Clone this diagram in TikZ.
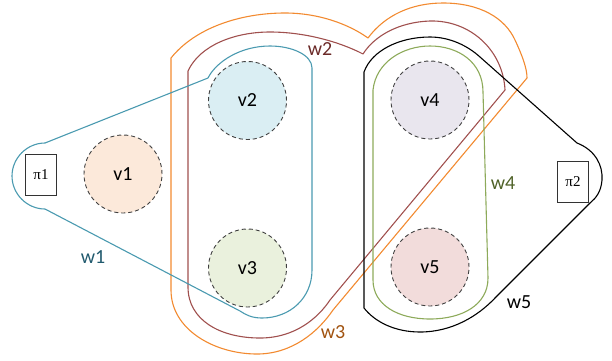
\documentclass[tikz,border=0pt]{standalone}
\usepackage{fontspec}
\setmainfont{Carlito}
\newfontfamily\boxfont{Liberation Serif}
\begin{document}
\begin{tikzpicture}[x=1pt,y=-1pt,
  vertex/.style={circle,minimum size=78pt,inner sep=0pt,draw=black!75,
    dash pattern=on 4pt off 3pt,line width=0.9pt,font=\fontsize{20}{22}\selectfont},
  portbox/.style={rectangle,draw=black!80,line width=0.8pt,minimum width=31pt,
    minimum height=41pt,inner sep=0pt,font=\boxfont\fontsize{15}{16}\selectfont},
  hedge/.style={line width=1.1pt,line join=round},
  elabel/.style={font=\fontsize{20}{22}\selectfont,inner sep=0pt}]
\definecolor{tealline}{HTML}{4A9AB0}
\definecolor{teallab}{HTML}{215A6E}
\definecolor{redline}{HTML}{A0504E}
\definecolor{redlab}{HTML}{6B2A28}
\definecolor{orangeline}{HTML}{F28A30}
\definecolor{orangelab}{HTML}{A0520F}
\definecolor{greenline}{HTML}{8DAA5A}
\definecolor{greenlab}{HTML}{4F6228}
\definecolor{fillA}{HTML}{FCE9DA}
\definecolor{fillB}{HTML}{DAEEF3}
\definecolor{fillC}{HTML}{EAF1DD}
\definecolor{fillD}{HTML}{E9E6EE}
\definecolor{fillE}{HTML}{F2DCDB}
\useasboundingbox (0,0) rectangle (612,360);

% hyperedge w3 (outermost, orange)
\draw[hedge,orangeline] (171,290) -- (171,58)
  .. controls (195,28) and (240,13) .. (285,13)
  .. controls (320,13) and (350,25) .. (368,38)
  .. controls (385,15) and (412,3) .. (443,3)
  .. controls (480,3) and (505,18) .. (515,40)
  .. controls (522,55) and (527,68) .. (527,78)
  -- (333,310)
  .. controls (318,332) and (292,354) .. (257,354)
  .. controls (215,354) and (171,330) .. (171,290) -- cycle;

% hyperedge w2 (red)
\draw[hedge,redline] (188,287) -- (188,71)
  .. controls (200,45) and (235,32) .. (270,32)
  .. controls (305,32) and (340,42) .. (363,54)
  .. controls (375,35) and (400,22) .. (430,21)
  .. controls (470,20) and (503,50) .. (505,90)
  -- (330,300)
  .. controls (318,318) and (295,338) .. (260,338)
  .. controls (220,338) and (188,320) .. (188,287) -- cycle;

% hyperedge w1 (teal) including port pi1
\draw[hedge,tealline] (45,143) -- (208,78)
  .. controls (216,62) and (240,46) .. (270,46)
  .. controls (292,46) and (312,55) .. (312,68)
  -- (312,270)
  .. controls (312,298) and (290,318) .. (262,318)
  .. controls (252,318) and (246,315) .. (240,311)
  -- (45,209)
  .. controls (27,209) and (12,194) .. (12,176)
  .. controls (12,158) and (27,143) .. (45,143) -- cycle;

% hyperedge w5 (black) including port pi2
\draw[hedge,black] (364,308) -- (364,72)
  .. controls (372,50) and (400,37) .. (430,37)
  .. controls (450,37) and (468,46) .. (480,57)
  -- (577,143)
  .. controls (595,150) and (603,165) .. (602,180)
  .. controls (601,192) and (596,198) .. (590,203)
  -- (495,298)
  .. controls (478,316) and (452,332) .. (420,332)
  .. controls (395,332) and (375,322) .. (364,308) -- cycle;

% hyperedge w4 (green)
\draw[hedge,greenline] (373,280) -- (373,90)
  .. controls (376,62) and (403,46) .. (430,46)
  .. controls (458,46) and (483,62) .. (483,92)
  -- (488,278)
  .. controls (488,305) and (462,319) .. (430,319)
  .. controls (398,319) and (373,305) .. (373,280) -- cycle;

% vertices
\node[vertex,fill=fillA] (v1) at (123,174) {v1};
\node[vertex,fill=fillB] (v2) at (247.5,100.5) {v2};
\node[vertex,fill=fillC] (v3) at (247.5,268) {v3};
\node[vertex,fill=fillD] (v4) at (430,100) {v4};
\node[vertex,fill=fillE] (v5) at (430,267) {v5};

% ports
\node[portbox] (p1) at (41,174.5) {π1};
\node[portbox] (p2) at (573,182) {π2};

% hyperedge labels
\node[elabel,text=teallab] (w1) at (93,257) {w1};
\node[elabel,text=redlab] (w2) at (320,49) {w2};
\node[elabel,text=orangelab] (w3) at (333,332) {w3};
\node[elabel,text=greenlab] (w4) at (503,183) {w4};
\node[elabel,text=black] (w5) at (519,302) {w5};
\end{tikzpicture}
\end{document}
